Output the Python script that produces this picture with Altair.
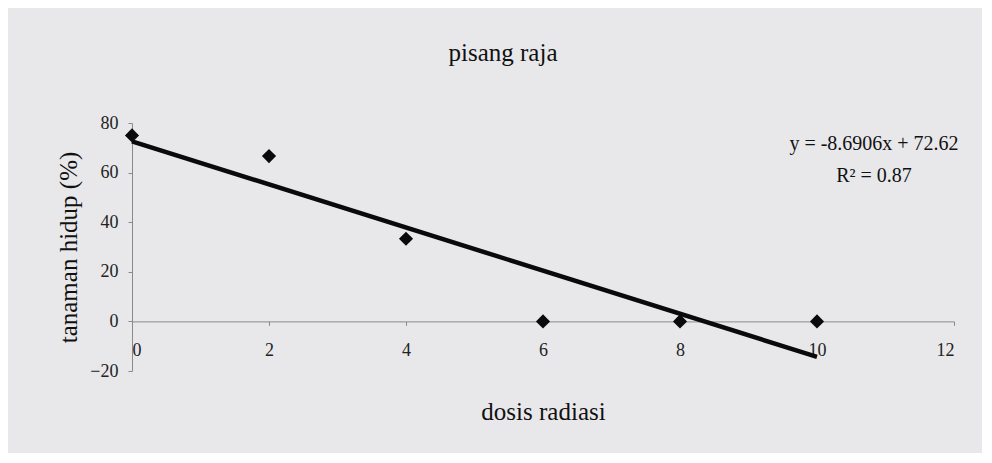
import altair as alt
import pandas as pd

# ---- data ----
dosis = [0, 2, 4, 6, 8, 10]
hidup = [75.0, 66.67, 33.33, 0.0, 0.0, 0.0]
x_ticks = [0, 2, 4, 6, 8, 10, 12]
y_ticks = [-20, 0, 20, 40, 60, 80]
chart_title = "pisang raja"
x_title = "dosis radiasi"
y_title = "tanaman hidup (%)"
eq_text = ["y = -8.6906x + 72.62"]
r2_text = ["R\u00b2 = 0.87"]

df = pd.DataFrame({"dosis": dosis, "hidup": hidup})

W, H = 822, 248
FONT = "Liberation Serif"
X_DOMAIN = [0, 12]
Y_DOMAIN = [-20, 80]
zero_offset = -H * (0 - Y_DOMAIN[0]) / (Y_DOMAIN[1] - Y_DOMAIN[0])

x_enc = alt.X(
    "dosis:Q",
    scale=alt.Scale(domain=X_DOMAIN, nice=False, zero=False),
    axis=alt.Axis(
        values=x_ticks, format="d", title=x_title, offset=zero_offset, grid=False,
        domainColor="#8a8a8a", domainWidth=1, tickColor="#8a8a8a", tickSize=4,
        labelFont=FONT, labelFontSize=18, labelColor="#222", labelPadding=16,
        titleFont=FONT, titleFontSize=25, titleFontWeight="normal", titleColor="#111",
        titleX=W / 2, titleY=90, titleBaseline="middle", titleAlign="center",
    ),
)
y_enc = alt.Y(
    "hidup:Q",
    scale=alt.Scale(domain=Y_DOMAIN, nice=False, zero=False),
    axis=alt.Axis(
        values=y_ticks, format="d", title=y_title, grid=False,
        domainColor="#8a8a8a", domainWidth=1, tickColor="#8a8a8a", tickSize=4,
        labelFont=FONT, labelFontSize=18, labelColor="#222", labelPadding=10,
        titleFont=FONT, titleFontSize=25, titleFontWeight="normal", titleColor="#111",
        titleX=-64, titleY=H / 2, titleAngle=-90, titleBaseline="middle", titleAlign="center",
    ),
)

points = alt.Chart(df).mark_point(
    shape="diamond", filled=True, color="#0a0a0a", size=200, opacity=1
).encode(x=x_enc, y=y_enc)

trend = alt.Chart(df).transform_regression(
    "dosis", "hidup", method="linear"
).mark_line(color="#0a0a0a", strokeWidth=4.5).encode(x="dosis:Q", y="hidup:Q")

eq = alt.Chart(pd.DataFrame({"t": eq_text})).mark_text(
    font=FONT, fontSize=20, color="#111", align="center", baseline="middle"
).encode(text="t:N", x=alt.value(742), y=alt.value(21))

r2 = alt.Chart(pd.DataFrame({"t": r2_text})).mark_text(
    font=FONT, fontSize=20, color="#111", align="center", baseline="middle"
).encode(text="t:N", x=alt.value(742), y=alt.value(53))

chart = alt.layer(trend, points, eq, r2).properties(
    width=W,
    height=H,
    title=alt.TitleParams(
        chart_title, font=FONT, fontSize=25, fontWeight="normal", color="#111",
        anchor="middle", baseline="middle", offset=36, dx=-40,
    ),
    autosize=alt.AutoSizeParams(type="none"),
    padding={"left": 124, "top": 115, "right": 28, "bottom": 82},
    background="#e8e8eb",
).configure_view(stroke=None).configure_axis(labelFont=FONT, titleFont=FONT)

chart.save("out.html", embed_options={"renderer": "svg", "actions": False})
